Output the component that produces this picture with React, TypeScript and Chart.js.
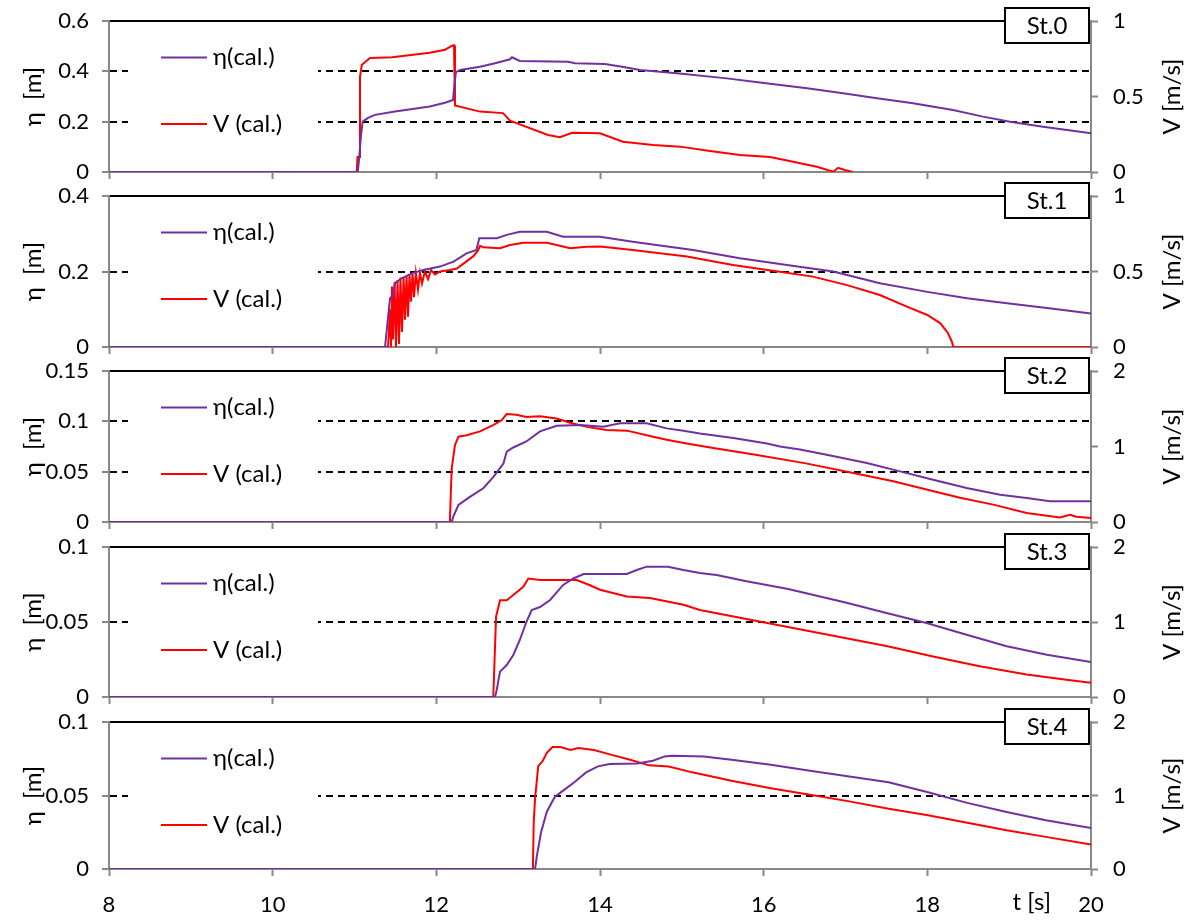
import React, { useEffect, useRef } from "react";
import { Chart, registerables } from "chart.js";

Chart.register(...registerables);

const FONT = "Lato, 'Noto Sans', 'DejaVu Sans', sans-serif";

// ---------------- data (t [s] / value) ----------------
// St.0
const st0EtaT = [8, 11.04, 11.055, 11.08, 11.1, 11.165, 11.25, 11.495, 11.92, 12.106, 12.204, 12.225, 12.24, 12.29, 12.534, 12.717, 12.9, 12.925, 13.02, 13.61, 13.695, 14.06, 14.306, 14.49, 14.94, 15.55, 15.955, 16.53, 16.97, 17.385, 17.825, 18.314, 18.68, 19.01, 19.414, 20];
const st0Eta = [0, 0, 0.048, 0.147, 0.2, 0.215, 0.227, 0.24, 0.26, 0.275, 0.286, 0.36, 0.397, 0.405, 0.418, 0.432, 0.448, 0.456, 0.441, 0.438, 0.432, 0.429, 0.416, 0.405, 0.392, 0.372, 0.356, 0.333, 0.313, 0.293, 0.273, 0.246, 0.22, 0.2, 0.18, 0.154];
const st0VT = [8, 11.027, 11.037, 11.055, 11.067, 11.09, 11.19, 11.46, 11.92, 12.106, 12.204, 12.216, 12.228, 12.534, 12.815, 12.9, 13.365, 13.51, 13.66, 14.0, 14.28, 14.65, 14.98, 15.345, 15.71, 16.08, 16.36, 16.65, 16.85, 16.91, 16.99, 17.09];
const st0V = [0, 0, 0.1, 0.1, 0.63, 0.71, 0.755, 0.76, 0.79, 0.81, 0.84, 0.84, 0.44, 0.4, 0.39, 0.34, 0.245, 0.23, 0.26, 0.256, 0.2, 0.179, 0.168, 0.139, 0.113, 0.1, 0.068, 0.035, 0.002, 0.028, 0.013, 0];

// St.1
const st1EtaT = [8, 11.373, 11.394, 11.434, 11.474, 11.495, 11.577, 11.7, 11.84, 12.045, 12.21, 12.37, 12.49, 12.525, 12.74, 12.86, 13.02, 13.35, 13.55, 14.0, 14.4, 15.137, 15.71, 16.285, 16.85, 17.42, 18.0, 18.485, 18.974, 19.463, 20];
const st1Eta = [0, 0, 0.045, 0.129, 0.138, 0.17, 0.182, 0.195, 0.204, 0.213, 0.226, 0.248, 0.257, 0.288, 0.288, 0.297, 0.305, 0.305, 0.292, 0.292, 0.279, 0.257, 0.235, 0.217, 0.2, 0.169, 0.146, 0.129, 0.116, 0.103, 0.089];
const st1VT = [8, 11.41, 11.434, 11.446, 11.458, 11.47, 11.49, 11.507, 11.526, 11.544, 11.562, 11.58, 11.6, 11.617, 11.636, 11.654, 11.672, 11.69, 11.709, 11.727, 11.75, 11.776, 11.8, 11.825, 11.86, 11.9, 11.935, 11.984, 12.045, 12.167, 12.25, 12.45, 12.51, 12.534, 12.574, 12.778, 12.9, 13.063, 13.35, 13.51, 13.634, 13.838, 14.0, 14.4, 15.063, 15.625, 16.196, 16.6, 17.02, 17.42, 17.75, 18.0, 18.16, 18.253, 18.3, 18.318, 20];
const st1V = [0, 0, 0.25, 0, 0.4, 0.05, 0.43, 0, 0.44, 0.02, 0.46, 0.1, 0.46, 0.18, 0.47, 0.2, 0.48, 0.3, 0.49, 0.33, 0.49, 0.38, 0.49, 0.42, 0.5, 0.45, 0.51, 0.48, 0.5, 0.51, 0.52, 0.6, 0.64, 0.67, 0.66, 0.654, 0.675, 0.69, 0.69, 0.67, 0.654, 0.664, 0.665, 0.642, 0.6, 0.543, 0.499, 0.466, 0.41, 0.344, 0.267, 0.212, 0.157, 0.091, 0.035, 0, 0];

// St.2
const st2EtaT = [8, 12.188, 12.207, 12.27, 12.41, 12.574, 12.7, 12.82, 12.86, 12.94, 13.1, 13.267, 13.47, 13.756, 14.04, 14.245, 14.57, 14.815, 15.02, 15.22, 15.63, 16.04, 16.2, 16.444, 16.77, 17.26, 17.667, 18.07, 18.48, 18.89, 19.215, 19.5, 20];
const st2Eta = [0, 0, 0.0053, 0.0169, 0.025, 0.0335, 0.045, 0.058, 0.07, 0.074, 0.08, 0.09, 0.0956, 0.0963, 0.0947, 0.098, 0.098, 0.093, 0.0907, 0.088, 0.0834, 0.078, 0.075, 0.072, 0.0668, 0.0586, 0.0503, 0.042, 0.0338, 0.0271, 0.0238, 0.0205, 0.0205];
const st2VT = [8, 12.16, 12.167, 12.188, 12.228, 12.27, 12.37, 12.534, 12.7, 12.8, 12.86, 12.98, 13.1, 13.267, 13.47, 13.634, 13.84, 14.08, 14.33, 14.65, 14.815, 15.06, 15.385, 15.9, 16.5, 17.095, 17.585, 17.99, 18.4, 18.806, 19.214, 19.62, 19.744, 19.82, 20];
const st2V = [0, 0, 0.07, 0.71, 1.02, 1.13, 1.15, 1.2, 1.285, 1.35, 1.43, 1.42, 1.39, 1.4, 1.37, 1.315, 1.26, 1.22, 1.21, 1.13, 1.09, 1.04, 0.98, 0.89, 0.78, 0.65, 0.54, 0.43, 0.32, 0.23, 0.12, 0.06, 0.097, 0.07, 0.053];

// St.3
const st3EtaT = [8, 12.717, 12.738, 12.778, 12.86, 12.94, 13.02, 13.1, 13.165, 13.267, 13.39, 13.55, 13.674, 13.8, 14.327, 14.45, 14.57, 14.83, 15.02, 15.22, 15.426, 15.79, 16.3, 17.0, 17.5, 17.99, 18.48, 18.97, 19.46, 20];
const st3Eta = [0, 0, 0.0047, 0.0169, 0.0213, 0.028, 0.038, 0.05, 0.058, 0.06, 0.0647, 0.0747, 0.079, 0.082, 0.082, 0.0847, 0.0869, 0.0869, 0.0847, 0.0827, 0.0813, 0.0771, 0.072, 0.063, 0.056, 0.0493, 0.0415, 0.0338, 0.0282, 0.0233];
const st3VT = [8, 12.696, 12.71, 12.73, 12.778, 12.86, 12.94, 13.063, 13.124, 13.267, 13.715, 13.878, 14.0, 14.327, 14.61, 15.02, 15.22, 15.79, 16.36, 16.93, 17.5, 18.07, 18.64, 19.214, 19.7, 20];
const st3V = [0, 0, 0.45, 1.07, 1.29, 1.29, 1.36, 1.47, 1.58, 1.56, 1.56, 1.49, 1.43, 1.34, 1.32, 1.23, 1.16, 1.04, 0.92, 0.8, 0.68, 0.54, 0.41, 0.3, 0.23, 0.19];

// St.4
const st4EtaT = [8, 13.206, 13.23, 13.28, 13.35, 13.447, 13.566, 13.686, 13.83, 13.975, 14.12, 14.455, 14.647, 14.79, 14.886, 15.27, 15.607, 16.087, 16.566, 17.047, 17.527, 18.008, 18.488, 18.968, 19.448, 20];
const st4Eta = [0, 0, 0.0095, 0.025, 0.039, 0.049, 0.054, 0.059, 0.0657, 0.0698, 0.0714, 0.0718, 0.0736, 0.0766, 0.077, 0.0766, 0.0743, 0.0709, 0.0668, 0.063, 0.059, 0.0522, 0.045, 0.0388, 0.0331, 0.0279];
const st4VT = [8, 13.18, 13.19, 13.206, 13.245, 13.3, 13.35, 13.42, 13.517, 13.64, 13.734, 13.927, 14.12, 14.358, 14.6, 14.84, 15.127, 15.607, 16.087, 16.566, 17.047, 17.527, 18.008, 18.488, 18.968, 19.448, 20];
const st4V = [0, 0, 0.64, 0.95, 1.4, 1.47, 1.58, 1.66, 1.66, 1.62, 1.645, 1.62, 1.56, 1.49, 1.41, 1.395, 1.315, 1.2, 1.1, 1.01, 0.92, 0.82, 0.73, 0.63, 0.526, 0.437, 0.333];

const stationNames = ["St.0", "St.1", "St.2", "St.3", "St.4"];
const etaLabel = "η(cal.)";
const vLabel = "V (cal.)";
const etaMax = [0.6, 0.4, 0.15, 0.1, 0.1];
const etaStep = [0.2, 0.2, 0.05, 0.05, 0.05];
const vMax = [1, 1, 2, 2, 2];
const vStep = [0.5, 0.5, 1, 1, 1];
const tMin = 8;
const tMax = 20;
const tStep = 2;

const series = [
  { etaT: st0EtaT, eta: st0Eta, vT: st0VT, v: st0V },
  { etaT: st1EtaT, eta: st1Eta, vT: st1VT, v: st1V },
  { etaT: st2EtaT, eta: st2Eta, vT: st2VT, v: st2V },
  { etaT: st3EtaT, eta: st3Eta, vT: st3VT, v: st3V },
  { etaT: st4EtaT, eta: st4Eta, vT: st4VT, v: st4V },
];

// ---------------- layout ----------------
const W = 1192;
const H = 922;
const PANEL_TOP = [21, 196, 371, 547, 722];
const PANEL_BOTTOM = [172, 347, 522, 697, 869];
const PAD_TOP = 16;
const LEFT_W = 109;
const RIGHT_W = W - 1091;
const AXIS_GRAY = "#888888";
const PURPLE = "#7030A0";
const RED = "#FF0000";

const fmt = (v: any) => String(Number(Number(v).toFixed(4)));

function Panel({ i }: { i: number }) {
  const ref = useRef<HTMLCanvasElement | null>(null);
  const last = i === 4;
  const top = PANEL_TOP[i] - PAD_TOP;
  const height = last ? H - top : PANEL_BOTTOM[i] - top + 14;
  const xH = height - (PANEL_BOTTOM[i] - top);

  useEffect(() => {
    const canvas = ref.current;
    if (!canvas) return;
    const s = series[i];
    const eMax = etaMax[i];

    const overlay = {
      id: "overlay" + i,
      beforeDatasetsDraw(chart: any) {
        const { ctx, chartArea } = chart;
        ctx.save();
        ctx.fillStyle = "#ffffff";
        ctx.fillRect(128, chartArea.top + 8, 190, chartArea.bottom - chartArea.top - 16);
        const rows = [chartArea.top + 36.5, chartArea.top + 103];
        chart.data.datasets.forEach((ds: any, k: number) => {
          const y = rows[k];
          ctx.strokeStyle = ds.borderColor;
          ctx.lineWidth = 2;
          ctx.beginPath();
          ctx.moveTo(161, y);
          ctx.lineTo(207, y);
          ctx.stroke();
          ctx.fillStyle = "#000";
          ctx.font = `24px ${FONT}`;
          ctx.textBaseline = "middle";
          ctx.textAlign = "left";
          ctx.fillText(ds.label, 213, y);
        });
        ctx.restore();
      },
      afterDraw(chart: any) {
        const { ctx, chartArea } = chart;
        const t = chartArea.top;
        ctx.save();
        ctx.fillStyle = "#ffffff";
        ctx.fillRect(1005, t - 13, 84, 35);
        ctx.strokeStyle = "#000";
        ctx.lineWidth = 2;
        ctx.strokeRect(1005, t - 13, 84, 35);
        ctx.fillStyle = "#000";
        ctx.font = `24px ${FONT}`;
        ctx.textAlign = "center";
        ctx.textBaseline = "middle";
        ctx.fillText(stationNames[i], 1047, t + 5);
        ctx.save();
        ctx.translate(1172, (chartArea.top + chartArea.bottom) / 2);
        ctx.rotate(-Math.PI / 2);
        ctx.font = `24px ${FONT}`;
        ctx.fillText("V [m/s]", 0, 0);
        ctx.restore();
        if (last) {
          ctx.font = `24px ${FONT}`;
          ctx.textAlign = "right";
          ctx.textBaseline = "middle";
          ctx.fillText("t [s]", 1051, chartArea.bottom + 33);
        }
        ctx.restore();
      },
    };

    const isTop = (c: any) => c.tick && Math.abs(c.tick.value - eMax) < 1e-9;
    const isZero = (c: any) => c.tick && Math.abs(c.tick.value) < 1e-9;
    const noPadV = (sc: any) => {
      sc.paddingTop = 0;
      sc.paddingBottom = 0;
    };

    const chart = new Chart(canvas, {
      type: "line",
      data: {
        datasets: [
          {
            label: etaLabel,
            data: s.etaT.map((x, k) => ({ x, y: s.eta[k] })),
            borderColor: PURPLE,
            backgroundColor: PURPLE,
            borderWidth: 2,
            pointRadius: 0,
            tension: 0,
            yAxisID: "y",
          },
          {
            label: vLabel,
            data: s.vT.map((x, k) => ({ x, y: s.v[k] })),
            borderColor: RED,
            backgroundColor: RED,
            borderWidth: 2,
            pointRadius: 0,
            tension: 0,
            yAxisID: "y1",
          },
        ],
      },
      options: {
        responsive: false,
        maintainAspectRatio: false,
        animation: false,
        devicePixelRatio: 1,
        layout: { padding: { top: PAD_TOP, bottom: 0, left: 0, right: 0 } },
        plugins: {
          legend: { display: false },
          tooltip: { enabled: false },
        },
        scales: {
          x: {
            type: "linear",
            min: tMin,
            max: tMax,
            ticks: {
              stepSize: tStep,
              display: last,
              color: "#000",
              font: { family: FONT, size: 22 },
              padding: 16,
              maxRotation: 0,
              callback: fmt,
            },
            grid: {
              drawOnChartArea: false,
              drawTicks: true,
              tickLength: 7,
              tickColor: AXIS_GRAY,
              tickWidth: 2,
            },
            border: { display: true, color: AXIS_GRAY, width: 2 },
            afterFit: (sc: any) => {
              sc.height = xH;
              sc.paddingLeft = 0;
              sc.paddingRight = 0;
            },
          },
          y: {
            type: "linear",
            position: "left",
            min: 0,
            max: eMax,
            ticks: {
              stepSize: etaStep[i],
              color: "#000",
              font: { family: FONT, size: 22 },
              padding: 13,
              callback: fmt,
            },
            grid: {
              drawOnChartArea: true,
              color: (c: any) => (isZero(c) ? "rgba(0,0,0,0)" : "#000"),
              lineWidth: 2,
              drawTicks: true,
              tickLength: 7,
              tickColor: AXIS_GRAY,
              tickWidth: 2,
            },
            border: {
              display: true,
              color: AXIS_GRAY,
              width: 2,
              dash: (c: any) => (isTop(c) ? [] : [7, 5]),
            },
            title: {
              display: true,
              text: "η  [m]",
              color: "#000",
              font: { family: FONT, size: 24 },
              padding: { top: 19, bottom: 0 },
            },
            afterFit: (sc: any) => {
              sc.width = LEFT_W;
              noPadV(sc);
            },
          },
          y1: {
            type: "linear",
            position: "right",
            min: 0,
            max: vMax[i],
            ticks: {
              stepSize: vStep[i],
              color: "#000",
              font: { family: FONT, size: 22 },
              padding: 15,
              callback: fmt,
            },
            grid: {
              drawOnChartArea: false,
              drawTicks: true,
              tickLength: 7,
              tickColor: AXIS_GRAY,
              tickWidth: 2,
            },
            border: { display: true, color: AXIS_GRAY, width: 2 },
            afterFit: (sc: any) => {
              sc.width = RIGHT_W;
              noPadV(sc);
            },
          },
        },
      } as any,
      plugins: [overlay],
    } as any);

    return () => chart.destroy();
  }, []);

  return (
    <canvas
      ref={ref}
      width={W}
      height={height}
      style={{ position: "absolute", left: 0, top, width: W, height, display: "block" }}
    />
  );
}

export default function App() {
  return (
    <div style={{ position: "absolute", left: 0, top: 0, width: W, height: H, background: "#fff" }}>
      {[0, 1, 2, 3, 4].map((i) => (
        <Panel key={i} i={i} />
      ))}
    </div>
  );
}
